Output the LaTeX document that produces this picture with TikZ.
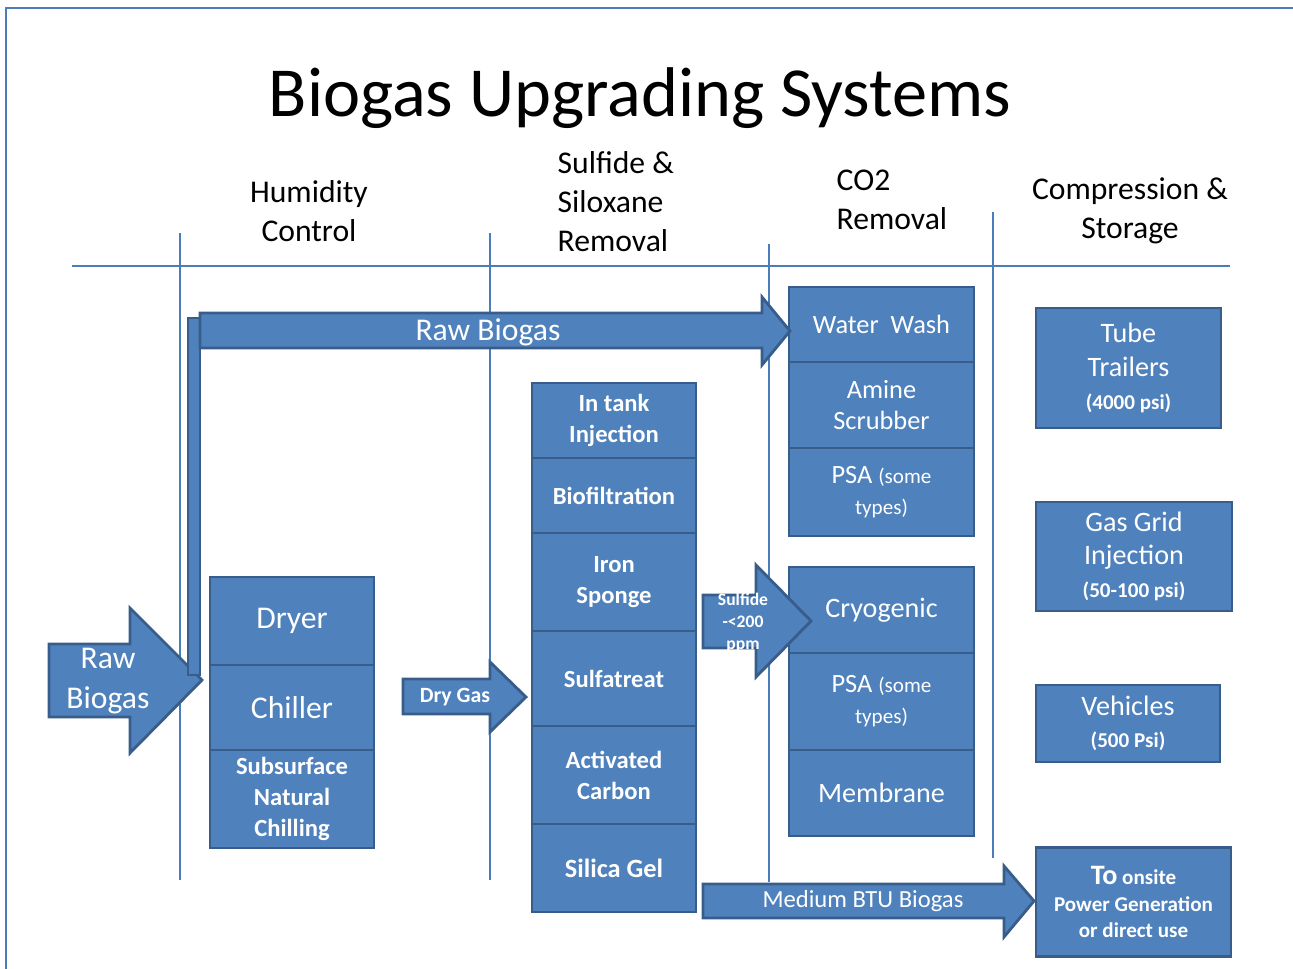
\documentclass[tikz,border=0pt]{standalone}
\usepackage{fontspec}
\setmainfont{Carlito}
\usepackage{tikz}
\definecolor{boxfill}{HTML}{4F81BD}
\definecolor{boxline}{HTML}{385D8A}
\definecolor{rulecol}{HTML}{4A7EBB}
\newcommand{\smtxt}[1]{{\fontsize{6}{7}\selectfont #1}}

\begin{document}
\begin{tikzpicture}
		[x=0.01cm,y=-0.01cm,
		b/.style={draw=boxline,line width=0.8pt,fill=boxfill,text=white,align=center,inner sep=0pt},
		sc/.style={b,minimum width=1.64cm,font=\bfseries\fontsize{7}{8.8}\selectfont},
		cc/.style={b,minimum width=1.85cm,font=\fontsize{7.5}{8.8}\selectfont},
		a/.style={draw=boxline,line width=0.8pt,fill=boxfill},
		t/.style={text=white,align=center,inner sep=0pt},
		hd/.style={font=\fontsize{9}{11.1}\selectfont,inner sep=0pt},
		sep/.style={draw=rulecol,line width=0.45pt}]

	\useasboundingbox (0,0) rectangle (1293,969);

	% frame and stage rules
	\draw[rulecol,line width=0.8pt] (6,969) -- (6,8) -- (1293,8);
	\draw[sep] (72,266) -- (1230,266);
	\draw[sep] (180,233) -- (180,880);
	\draw[sep] (490,233) -- (490,880);
	\draw[sep] (769,244) -- (769,882);
	\draw[sep] (993,212) -- (993,858);

	\node[inner sep=0pt,font=\fontsize{20}{24}\selectfont] (title) at (640,98) {Biogas Upgrading Systems};

	\node[hd,align=center] (hum) at (309,211) {Humidity\\Control};
	\node[hd,align=left,anchor=west] (sulf) at (557,202) {Sulfide \&\\Siloxane\\Removal};
	\node[hd,align=left,anchor=west] (co2) at (836,200) {CO2\\Removal};
	\node[hd,align=center] (comp) at (1130,211) {Compression \&\\Storage};

	% humidity control
	\node[b,minimum width=1.64cm,minimum height=0.88cm,font=\fontsize{9}{11}\selectfont] (dryer) at (292,621) {Dryer};
	\node[b,minimum width=1.64cm,minimum height=0.85cm,font=\fontsize{9}{11}\selectfont] (chiller) at (292,707.5) {Chiller};
	\node[sc,minimum height=0.98cm] (subsurf) at (292,799) {Subsurface\\Natural\\Chilling};

	% sulfide and siloxane removal
	\node[sc,minimum height=0.75cm] (intank) at (614,420.5) {In tank\\Injection};
	\node[sc,minimum height=0.75cm] (biofilt) at (614,495.5) {Biofiltration};
	\node[sc,minimum height=0.98cm] (iron) at (614,582) {Iron\\Sponge};
	\node[sc,minimum height=0.95cm] (sulfa) at (614,678.5) {Sulfatreat};
	\node[sc,minimum height=0.98cm] (actc) at (614,775) {Activated\\Carbon};
	\node[sc,minimum height=0.88cm,font=\bfseries\fontsize{7.5}{8.8}\selectfont] (silica) at (614,868) {Silica Gel};

	% co2 removal
	\node[cc,minimum height=0.75cm] (water) at (881.5,324.5) {Water\ \ Wash};
	\node[cc,minimum height=0.86cm] (amine) at (881.5,405) {Amine\\Scrubber};
	\node[cc,minimum height=0.88cm] (psaA) at (881.5,492) {PSA \smtxt{(some}\\\smtxt{types)}};
	\node[cc,minimum height=0.86cm,font=\fontsize{8}{9}\selectfont] (cryo) at (881.5,610) {Cryogenic};
	\node[cc,minimum height=0.97cm] (psaB) at (881.5,701.5) {PSA \smtxt{(some}\\\smtxt{types)}};
	\node[cc,minimum height=0.86cm,font=\fontsize{8}{9}\selectfont] (memb) at (881.5,793) {Membrane};

	% compression and storage
	\node[b,minimum width=1.85cm,minimum height=1.20cm,font=\fontsize{8}{9.6}\selectfont] (tube) at (1128.5,368) {Tube\\Trailers\\\smtxt{\bfseries(4000 psi)}};
	\node[b,minimum width=1.96cm,minimum height=1.09cm,font=\fontsize{8}{9.4}\selectfont] (grid) at (1134,556.5) {Gas Grid\\Injection\\\smtxt{\bfseries(50-100 psi)}};
	\node[b,minimum width=1.84cm,minimum height=0.77cm,font=\fontsize{8}{9}\selectfont] (veh) at (1128,723.5) {Vehicles\\\smtxt{\bfseries(500 Psi)}};
	\node[b,minimum width=1.95cm,minimum height=1.09cm,font=\bfseries\fontsize{6}{7.6}\selectfont] (onsite) at (1133.5,902) {{\fontsize{8}{7.6}\selectfont To} onsite\\Power Generation\\or direct use};

	% block arrows
	\fill[a] (49,644) -- (130,644) -- (130,608) -- (202,680) -- (130,753) -- (130,717) -- (49,717) -- cycle;
	\fill[a] (188,318) rectangle (200,675);
	\fill[a] (200,313) -- (762,313) -- (762,297) -- (790,331) -- (762,365) -- (762,348) -- (200,348) -- cycle;
	\fill[a] (403,679) -- (490,679) -- (490,662) -- (526,697) -- (490,732) -- (490,714) -- (403,714) -- cycle;
	\fill[a] (703,595) -- (756,595) -- (756,565) -- (811,621) -- (756,677) -- (756,648) -- (703,648) -- cycle;
	\fill[a] (703,884) -- (1004,884) -- (1004,866) -- (1034,901) -- (1004,937) -- (1004,918) -- (703,918) -- cycle;

	\node[t,font=\fontsize{9}{11.4}\selectfont] (rawin) at (108,681) {Raw\\Biogas};
	\node[t,font=\fontsize{9}{11}\selectfont] (rawtop) at (488,332) {Raw Biogas};
	\node[t,font=\bfseries\fontsize{6.2}{7}\selectfont] (dry) at (455,697) {Dry Gas};
	\node[t,font=\bfseries\fontsize{5}{6.3}\selectfont] (lowsulf) at (743,623) {Sulfide\\-<200\\ppm};
	\node[t,font=\fontsize{7}{8}\selectfont] (mbtu) at (863,901) {Medium BTU Biogas};

\end{tikzpicture}
\end{document}
